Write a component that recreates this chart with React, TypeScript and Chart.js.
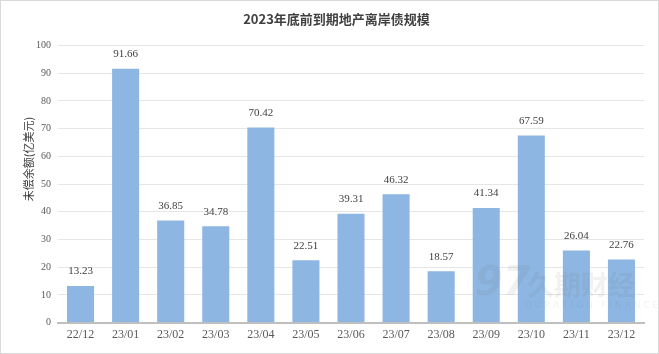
import React, { useEffect, useRef } from "react";
import { Chart, registerables } from "chart.js";
Chart.register(...registerables);

const categories = ["22/12", "23/01", "23/02", "23/03", "23/04", "23/05", "23/06", "23/07", "23/08", "23/09", "23/10", "23/11", "23/12"];
const values = [13.23, 91.66, 36.85, 34.78, 70.42, 22.51, 39.31, 46.32, 18.57, 41.34, 67.59, 26.04, 22.76];
const titleText = "2023年底前到期地产离岸债规模";
const yTitle = "未偿余额(亿美元)";

const valueLabels = {
  id: "valueLabels",
  afterDatasetsDraw(chart: any) {
    const ctx = chart.ctx;
    const meta = chart.getDatasetMeta(0);
    ctx.save();
    ctx.font = "11px 'Liberation Serif', serif";
    ctx.fillStyle = "#404040";
    ctx.textAlign = "center";
    ctx.textBaseline = "bottom";
    meta.data.forEach((bar: any, i: number) => {
      ctx.fillText(values[i].toFixed(2), bar.x, bar.y - 9);
    });
    ctx.restore();
  },
};

const yTitlePlugin = {
  id: "yTitlePlugin",
  afterDraw(chart: any) {
    const ctx = chart.ctx;
    ctx.save();
    ctx.translate(28, 158);
    ctx.rotate(-Math.PI / 2);
    ctx.font = "11px 'Noto Sans CJK SC', sans-serif";
    ctx.fillStyle = "#404040";
    ctx.textAlign = "center";
    ctx.textBaseline = "middle";
    ctx.fillText(yTitle, 0, 0);
    ctx.restore();
  },
};

const watermark = {
  id: "watermark",
  afterDatasetsDraw(chart: any) {
    const ctx = chart.ctx;
    ctx.save();
    ctx.globalAlpha = 0.1;
    ctx.fillStyle = "#7a7a7a";
    ctx.font = "bold italic 40px 'DejaVu Sans', sans-serif";
    ctx.textBaseline = "middle";
    ctx.fillText("97", 474, 284);
    ctx.font = "bold 27px 'Noto Sans CJK SC', sans-serif";
    ctx.fillText("久期财经", 526, 284);
    ctx.font = "9px 'DejaVu Sans', sans-serif";
    ctx.fillText("D U R A T I O N   F I N A N C E", 524, 305);
    ctx.restore();
  },
};

export default function App() {
  const ref = useRef<HTMLCanvasElement>(null);
  useEffect(() => {
    document.body.style.margin = "0";
    const chart = new Chart(ref.current!, {
      type: "bar",
      data: {
        labels: categories,
        datasets: [
          {
            data: values,
            backgroundColor: "#8db6e2",
            barPercentage: 0.6,
            categoryPercentage: 1,
          },
        ],
      },
      plugins: [valueLabels, watermark, yTitlePlugin],
      options: {
        responsive: false,
        animation: false,
        layout: { padding: { left: 28, right: 14, top: 0, bottom: 6 } },
        plugins: {
          legend: { display: false },
          tooltip: { enabled: false },
          title: {
            display: true,
            text: titleText,
            color: "#404040",
            font: { family: "'Noto Sans CJK SC', sans-serif", size: 13, weight: "bold" },
            padding: { top: 10, bottom: 19 },
          },
        },
        scales: {
          x: {
            grid: { display: false, drawTicks: false },
            border: { color: "#bfbfbf", width: 2 },
            ticks: { color: "#595959", font: { family: "'Liberation Serif', serif", size: 12 }, padding: 5, maxRotation: 0 },
          },
          y: {
            min: 0,
            max: 100,
            ticks: { stepSize: 10, color: "#595959", font: { family: "'Liberation Serif', serif", size: 10 }, padding: 7 },
            grid: { color: "#e6e6e6", drawTicks: false },
            border: { display: false },
          },
        },
      },
    });
    return () => chart.destroy();
  }, []);
  return (
    <div style={{ width: 657, height: 352, border: "1px solid #d9d9d9", background: "#fff" }}>
      <canvas ref={ref} width={657} height={352} />
    </div>
  );
}
